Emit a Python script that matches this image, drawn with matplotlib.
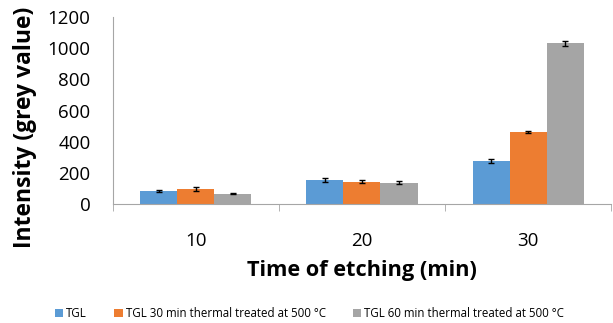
import numpy as np
import matplotlib.pyplot as plt

plt.rcParams['font.family'] = ['Open Sans', 'DejaVu Sans']

times = ['10', '20', '30']
series = ['TGL', 'TGL 30 min thermal treated at 500 °C', 'TGL 60 min thermal treated at 500 °C']
values = [
    [85, 157, 279],
    [97, 145, 462],
    [68, 138, 1032],
]
errors = [
    [4, 12, 13],
    [13, 10, 8],
    [3, 8, 15],
]
colors = ['#5B9BD5', '#ED7D31', '#A5A5A5']

fig = plt.figure(figsize=(6.13, 3.23), dpi=100)
ax = fig.add_axes([0.184, 0.368, 0.813, 0.579])

x = np.arange(len(times))
w = 0.223
for i in range(3):
    ax.bar(x + (i - 1) * w, values[i], w, color=colors[i], label=series[i],
           yerr=errors[i], capsize=2.5, error_kw=dict(elinewidth=1, capthick=1, ecolor='black'))

ax.set_xlim(-0.5, 2.5)
ax.set_ylim(0, 1200)
ax.set_yticks(np.arange(0, 1201, 200))
ax.set_xticks(x)
ax.set_xticklabels(times)
ax.set_xticks([-0.5, 0.5, 1.5, 2.5], minor=True)
ax.tick_params(axis='x', which='major', length=0, pad=20, labelsize=13.5)
ax.tick_params(axis='x', which='minor', length=5, color='#A6A6A6')
ax.tick_params(axis='y', length=0, pad=16, labelsize=13.5)

for s in ['top', 'right']:
    ax.spines[s].set_visible(False)
ax.spines['left'].set_color('#A6A6A6')
ax.spines['bottom'].set_color('#A6A6A6')

ax.set_xlabel('Time of etching (min)', fontsize=15.7, fontweight='bold', labelpad=7)
ax.set_ylabel('Intensity (grey value)', fontsize=16.5, fontweight='bold')
ax.yaxis.set_label_coords(-0.152, 0.41)

fig.legend(loc='center', bbox_to_anchor=(0.505, 0.028), ncol=3, frameon=False,
           fontsize=8.3, handlelength=0.7, handleheight=0.7, columnspacing=2.4, handletextpad=0.26)

fig.savefig('out.png', dpi=100)
